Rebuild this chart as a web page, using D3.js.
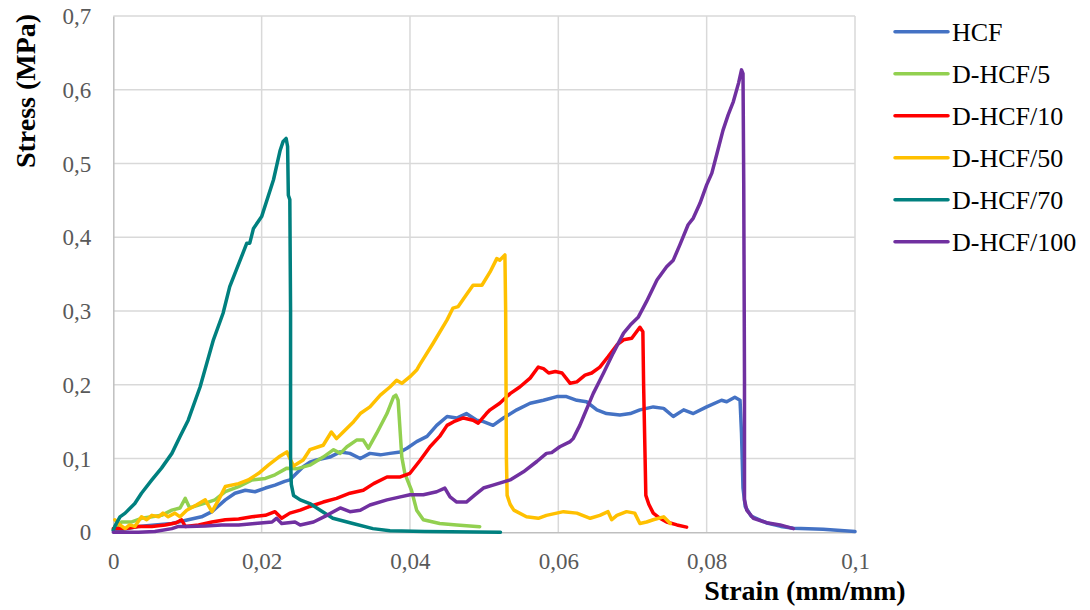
<!DOCTYPE html>
<html>
<head>
<meta charset="utf-8">
<script src="https://cdn.jsdelivr.net/npm/d3@7"></script>
<style>
  html, body { margin: 0; padding: 0; background: #fff; }
  svg text { font-family: "Liberation Serif", "Times New Roman", Times, "DejaVu Serif", serif !important; }
</style>
</head>
<body>
<svg id="chart" width="1090" height="610"></svg>
<script>
// Stress–strain curves, [strain (mm/mm), stress (MPa)]
const hcf = [[0,0.002],[0.002,0.005],[0.0034,0.008],[0.0056,0.010],[0.0079,0.012],[0.0101,0.017],[0.0119,0.021],[0.0133,0.028],[0.0151,0.044],[0.0164,0.053],[0.0178,0.057],[0.0191,0.055],[0.0205,0.060],[0.0218,0.064],[0.0231,0.069],[0.0238,0.071],[0.0245,0.078],[0.0256,0.089],[0.0265,0.095],[0.0274,0.098],[0.0292,0.102],[0.0306,0.109],[0.0319,0.107],[0.0333,0.100],[0.0346,0.107],[0.036,0.105],[0.0373,0.107],[0.0387,0.109],[0.0396,0.114],[0.0409,0.123],[0.0423,0.130],[0.0436,0.145],[0.045,0.157],[0.0463,0.155],[0.0476,0.161],[0.049,0.152],[0.0499,0.150],[0.0512,0.145],[0.0526,0.155],[0.0544,0.166],[0.0562,0.175],[0.058,0.179],[0.0598,0.184],[0.0611,0.184],[0.0625,0.179],[0.0638,0.177],[0.0652,0.166],[0.0665,0.161],[0.0683,0.159],[0.0697,0.161],[0.071,0.166],[0.0728,0.170],[0.0742,0.168],[0.0755,0.157],[0.0769,0.166],[0.0782,0.161],[0.08,0.170],[0.082,0.179],[0.0827,0.177],[0.0838,0.183],[0.0845,0.179],[0.0847,0.134],[0.0849,0.06],[0.0852,0.035],[0.086,0.022],[0.088,0.013],[0.09,0.008],[0.0917,0.0055],[0.0957,0.004],[0.1,0.001]];

const dhcf5 = [[0,0.004],[0.0005,0.008],[0.0011,0.014],[0.0025,0.014],[0.0038,0.019],[0.0052,0.021],[0.0065,0.023],[0.0079,0.030],[0.009,0.033],[0.0097,0.046],[0.0103,0.033],[0.0115,0.037],[0.0128,0.041],[0.0137,0.044],[0.0151,0.055],[0.0169,0.062],[0.0187,0.071],[0.0205,0.073],[0.0218,0.078],[0.0234,0.087],[0.0247,0.086],[0.0265,0.091],[0.0283,0.102],[0.0297,0.112],[0.0306,0.107],[0.0315,0.116],[0.0328,0.125],[0.0337,0.125],[0.0344,0.114],[0.0355,0.134],[0.0369,0.161],[0.0378,0.184],[0.0381,0.186],[0.0384,0.179],[0.0389,0.102],[0.0393,0.080],[0.0402,0.057],[0.0409,0.030],[0.0418,0.017],[0.044,0.012],[0.0463,0.010],[0.0494,0.0076]];

const dhcf10 = [[0,0.005],[0.0016,0.005],[0.0034,0.008],[0.0052,0.008],[0.007,0.010],[0.0085,0.013],[0.0092,0.017],[0.0097,0.008],[0.0115,0.010],[0.0133,0.014],[0.0151,0.017],[0.0169,0.018],[0.0187,0.021],[0.0205,0.023],[0.0218,0.028],[0.0227,0.019],[0.0238,0.026],[0.0252,0.030],[0.0265,0.035],[0.0283,0.041],[0.0301,0.046],[0.0319,0.053],[0.0337,0.057],[0.0351,0.066],[0.0369,0.075],[0.0387,0.075],[0.04,0.080],[0.0414,0.098],[0.0427,0.116],[0.044,0.130],[0.045,0.145],[0.0459,0.150],[0.0472,0.155],[0.0485,0.152],[0.0492,0.148],[0.0503,0.161],[0.0508,0.166],[0.0521,0.175],[0.0535,0.188],[0.0548,0.197],[0.0562,0.209],[0.0573,0.224],[0.058,0.222],[0.0587,0.216],[0.0596,0.218],[0.0605,0.216],[0.0616,0.202],[0.0625,0.204],[0.0636,0.213],[0.0645,0.216],[0.0656,0.224],[0.0667,0.238],[0.0679,0.254],[0.0688,0.261],[0.0699,0.263],[0.071,0.278],[0.0714,0.272],[0.0715,0.20],[0.0717,0.10],[0.0718,0.05],[0.0722,0.038],[0.0728,0.026],[0.0737,0.019],[0.0746,0.014],[0.076,0.010],[0.0773,0.007]];

const dhcf50 = [[0.0002,0.017],[0.0009,0.010],[0.0016,0.005],[0.0022,0.010],[0.0029,0.008],[0.0038,0.021],[0.0045,0.017],[0.0052,0.023],[0.0061,0.021],[0.0067,0.026],[0.0074,0.021],[0.0083,0.026],[0.009,0.021],[0.0099,0.030],[0.0112,0.037],[0.0124,0.044],[0.0133,0.028],[0.0142,0.044],[0.0151,0.062],[0.0169,0.066],[0.0182,0.071],[0.0196,0.080],[0.0209,0.091],[0.0223,0.102],[0.0234,0.109],[0.0243,0.090],[0.0256,0.098],[0.0265,0.112],[0.0283,0.118],[0.0294,0.136],[0.0301,0.127],[0.031,0.136],[0.0324,0.150],[0.0333,0.161],[0.0346,0.170],[0.036,0.186],[0.0373,0.197],[0.0382,0.206],[0.0389,0.202],[0.04,0.211],[0.0409,0.220],[0.0413,0.227],[0.0431,0.256],[0.045,0.288],[0.0458,0.304],[0.0465,0.306],[0.0476,0.322],[0.0485,0.335],[0.0497,0.335],[0.0508,0.353],[0.0517,0.371],[0.0521,0.369],[0.0528,0.376],[0.0529,0.30],[0.053,0.10],[0.0531,0.05],[0.0535,0.038],[0.054,0.030],[0.0557,0.021],[0.0573,0.019],[0.0584,0.023],[0.0607,0.028],[0.0625,0.026],[0.0643,0.019],[0.0656,0.023],[0.0667,0.028],[0.0672,0.017],[0.0679,0.023],[0.0692,0.028],[0.0703,0.026],[0.071,0.012],[0.0719,0.014],[0.0728,0.017],[0.0742,0.021],[0.0751,0.012]];

const dhcf70 = [[0,0.003],[0.0002,0.008],[0.0009,0.021],[0.0016,0.026],[0.0029,0.039],[0.0038,0.053],[0.0052,0.071],[0.0065,0.087],[0.0079,0.107],[0.009,0.130],[0.0101,0.152],[0.0117,0.197],[0.0135,0.261],[0.0148,0.297],[0.0157,0.333],[0.0166,0.356],[0.018,0.392],[0.0184,0.392],[0.0189,0.412],[0.020,0.428],[0.0216,0.478],[0.0225,0.518],[0.0229,0.530],[0.0233,0.534],[0.0235,0.523],[0.0236,0.457],[0.0238,0.451],[0.0239,0.30],[0.0239,0.10],[0.024,0.065],[0.0243,0.050],[0.0252,0.044],[0.0265,0.039],[0.0279,0.030],[0.0296,0.019],[0.0323,0.012],[0.035,0.005],[0.0373,0.002],[0.042,0.001],[0.0522,0]];

const dhcf100 = [[0,0],[0.0034,0],[0.0056,0.001],[0.0079,0.005],[0.0088,0.008],[0.0101,0.008],[0.0124,0.0085],[0.0146,0.010],[0.0169,0.010],[0.0191,0.012],[0.0214,0.014],[0.022,0.019],[0.0227,0.012],[0.0245,0.014],[0.0252,0.010],[0.027,0.014],[0.0288,0.023],[0.0306,0.033],[0.0319,0.028],[0.0333,0.030],[0.0346,0.037],[0.0369,0.044],[0.0387,0.048],[0.04,0.051],[0.0418,0.051],[0.0436,0.055],[0.0447,0.060],[0.0454,0.048],[0.0463,0.041],[0.0476,0.041],[0.0488,0.051],[0.0499,0.060],[0.0512,0.064],[0.0535,0.071],[0.0553,0.082],[0.0571,0.096],[0.0584,0.107],[0.0591,0.108],[0.0602,0.116],[0.0616,0.123],[0.062,0.127],[0.0629,0.145],[0.0634,0.157],[0.0647,0.188],[0.0661,0.216],[0.0674,0.243],[0.0688,0.270],[0.0697,0.281],[0.0708,0.292],[0.0719,0.313],[0.0733,0.342],[0.0746,0.360],[0.0755,0.369],[0.0764,0.390],[0.0775,0.417],[0.0782,0.426],[0.0791,0.446],[0.08,0.471],[0.0807,0.487],[0.0814,0.514],[0.0822,0.545],[0.0829,0.566],[0.0836,0.584],[0.0843,0.609],[0.0847,0.627],[0.0849,0.622],[0.085,0.473],[0.0851,0.207],[0.0851,0.044],[0.0854,0.030],[0.0863,0.019],[0.0881,0.013],[0.0899,0.010],[0.0917,0.005]];

const seriesNames = ["HCF", "D-HCF/5", "D-HCF/10", "D-HCF/50", "D-HCF/70", "D-HCF/100"];
const seriesData = [hcf, dhcf5, dhcf10, dhcf50, dhcf70, dhcf100];
const seriesColors = ["#4472C4", "#92D050", "#FF0000", "#FFC000", "#00807F", "#7030A0"];

const xTicks = [0, 0.02, 0.04, 0.06, 0.08, 0.1];
const yTicks = [0, 0.1, 0.2, 0.3, 0.4, 0.5, 0.6, 0.7];
const xTitle = "Strain (mm/mm)";
const yTitle = "Stress (MPa)";

const svg = d3.select("#chart");
const x = d3.scaleLinear().domain([0, 0.1]).range([113.3, 855]);
const y = d3.scaleLinear().domain([0, 0.7]).range([532.3, 16]);
const fmt = v => String(+v.toFixed(2)).replace(".", ",");

// gridlines
const grid = svg.append("g");
grid.selectAll("line.h").data(yTicks.filter(d => d > 0)).join("line")
  .attr("x1", x(0)).attr("x2", x(0.1))
  .attr("y1", d => y(d)).attr("y2", d => y(d))
  .attr("stroke", "#d9d9d9").attr("stroke-width", 1.5);
grid.selectAll("line.v").data(xTicks.filter(d => d > 0)).join("line")
  .attr("y1", y(0)).attr("y2", y(0.7))
  .attr("x1", d => x(d)).attr("x2", d => x(d))
  .attr("stroke", "#d9d9d9").attr("stroke-width", 1.5);

// axes
const xAxis = svg.append("g").attr("transform", `translate(0,${y(0)})`)
  .call(d3.axisBottom(x).tickValues(xTicks).tickFormat(fmt).tickSize(0).tickPadding(20));
const yAxis = svg.append("g").attr("transform", `translate(${x(0)},0)`)
  .call(d3.axisLeft(y).tickValues(yTicks).tickFormat(fmt).tickSize(0).tickPadding(22));
[xAxis, yAxis].forEach(a => {
  a.attr("font-family", null);
  a.select(".domain").attr("stroke", "#bfbfbf").attr("stroke-width", 1.5);
  a.selectAll("text").attr("fill", "#595959").attr("font-size", 23);
});
yAxis.selectAll("text").attr("dy", "0.33em");

// curves
const line = d3.line().x(d => x(d[0])).y(d => y(d[1]));
svg.append("g").selectAll("path").data(seriesData).join("path")
  .attr("d", line)
  .attr("fill", "none")
  .attr("stroke", (d, i) => seriesColors[i])
  .attr("stroke-width", 3.5)
  .attr("stroke-linejoin", "round")
  .attr("stroke-linecap", "round");

// axis titles
svg.append("text")
  .attr("x", 805).attr("y", 600)
  .attr("text-anchor", "middle")
  .attr("font-size", 28).attr("font-weight", "bold").attr("fill", "#000")
  .text(xTitle);
svg.append("text")
  .attr("transform", "translate(35,91) rotate(-90)")
  .attr("text-anchor", "middle")
  .attr("font-size", 28).attr("font-weight", "bold").attr("fill", "#000")
  .text(yTitle);

// legend
const legend = svg.append("g").selectAll("g").data(seriesNames).join("g")
  .attr("transform", (d, i) => `translate(895,${31.7 + i * 42})`);
legend.append("line")
  .attr("x1", 0).attr("x2", 53)
  .attr("stroke", (d, i) => seriesColors[i])
  .attr("stroke-width", 3.5).attr("stroke-linecap", "round");
legend.append("text")
  .attr("x", 57).attr("dy", "0.34em")
  .attr("font-size", 26).attr("fill", "#000")
  .text(d => d);
</script>
</body>
</html>
